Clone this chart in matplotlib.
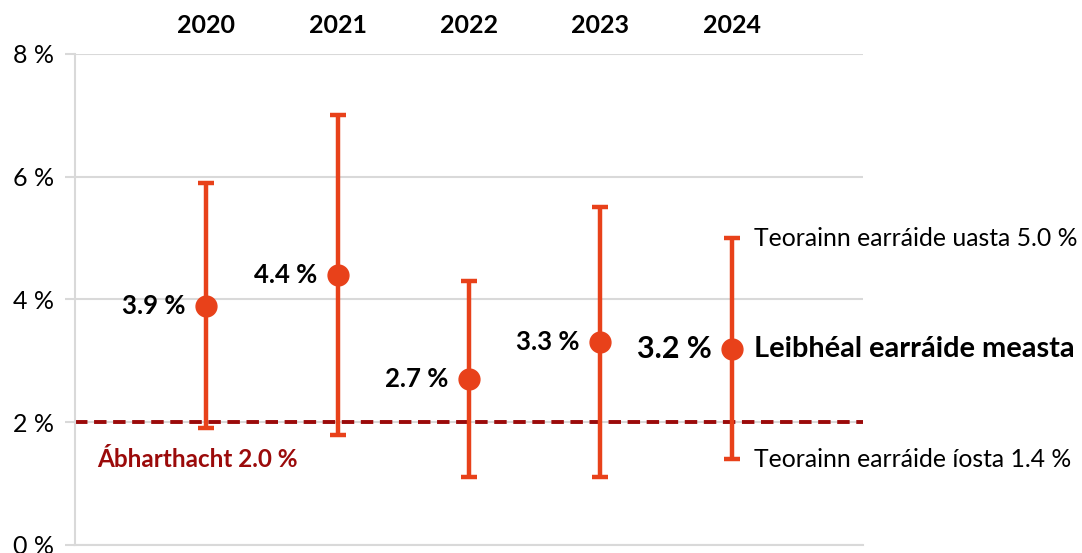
import matplotlib.pyplot as plt

plt.rcParams['font.family'] = ['Lato', 'DejaVu Sans']

# === Data ===
years = ["2020", "2021", "2022", "2023", "2024"]
estimate = [3.9, 4.4, 2.7, 3.3, 3.2]
lower = [1.9, 1.8, 1.1, 1.1, 1.4]
upper = [5.9, 7.0, 4.3, 5.5, 5.0]
materiality = 2.0
y_ticks = [0, 2, 4, 6, 8]

orange = "#E8411A"
darkred = "#9B0A0A"
grey = "#D9D9D9"

fig = plt.figure(figsize=(10.82, 5.53), dpi=100)
ax = fig.add_axes([0.0693, 0.0145, 0.7283, 0.8879])

xs = list(range(1, len(years) + 1))
err_lo = [e - l for e, l in zip(estimate, lower)]
err_hi = [u - e for u, e in zip(upper, estimate)]

# materiality line
ax.axhline(materiality, color=darkred, lw=2.8, linestyle=(0, (3.2, 1.7)), zorder=2)

ax.errorbar(xs, estimate, yerr=[err_lo, err_hi], fmt="o", color=orange,
            ms=15, lw=3.2, capsize=6, capthick=3.2, zorder=3)

# value labels
for i, (x, v) in enumerate(zip(xs, estimate)):
    big = i == len(xs) - 1
    ax.text(x - 0.155, v, f"{v:.1f} %", ha="right", va="center",
            fontsize=22 if big else 18.5, fontweight="bold", color="black")

# year labels above the plot
for x, yr in zip(xs, years):
    ax.text(x, 8.47, yr, ha="center", va="center", fontsize=18,
            fontweight="bold", clip_on=False)

# right-hand annotations for the last year
x_last = xs[-1]
ax.text(x_last + 0.17, upper[-1], f"Teorainn earráide uasta {upper[-1]:.1f} %",
        ha="left", va="center", fontsize=17.8, clip_on=False)
ax.text(x_last + 0.17, estimate[-1], "Leibhéal earráide measta",
        ha="left", va="center", fontsize=20.8, fontweight="bold", clip_on=False)
ax.text(x_last + 0.17, lower[-1], f"Teorainn earráide íosta {lower[-1]:.1f} %",
        ha="left", va="center", fontsize=17.8, clip_on=False)

ax.text(0.17, 1.4, f"Ábharthacht {materiality:.1f} %", ha="left", va="center",
        fontsize=17.5, fontweight="bold", color=darkred)

# axes styling
ax.set_xlim(0, 6)
ax.set_ylim(0, 8)
ax.set_yticks(y_ticks)
ax.set_yticklabels([f"{t} %" for t in y_ticks], fontsize=18)
ax.set_xticks([])
ax.grid(axis="y", color=grey, lw=1.5, zorder=0)
ax.set_axisbelow(True)
for side in ["top", "right"]:
    ax.spines[side].set_visible(False)
for side in ["left", "bottom"]:
    ax.spines[side].set_color(grey)
    ax.spines[side].set_linewidth(1.5)
ax.tick_params(axis="y", length=7, width=1.5, color=grey, pad=8)

plt.savefig("out.png", dpi=100)
